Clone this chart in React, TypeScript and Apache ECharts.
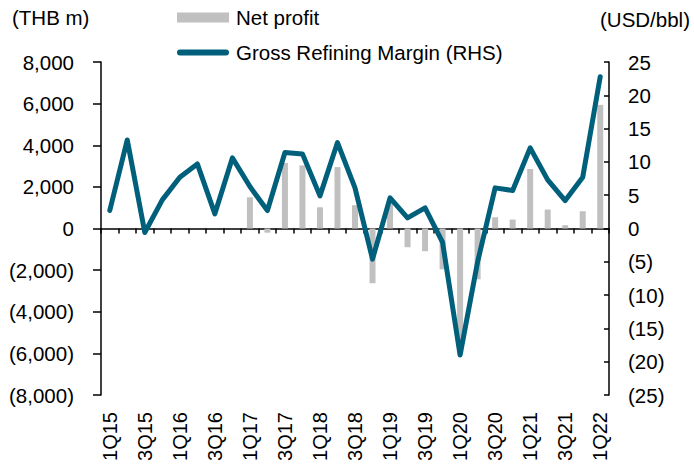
import React, { useEffect, useRef } from "react";
import * as echarts from "echarts";

const categories = [
  "1Q15", "2Q15", "3Q15", "4Q15", "1Q16", "2Q16", "3Q16", "4Q16",
  "1Q17", "2Q17", "3Q17", "4Q17", "1Q18", "2Q18", "3Q18", "4Q18",
  "1Q19", "2Q19", "3Q19", "4Q19", "1Q20", "2Q20", "3Q20", "4Q20",
  "1Q21", "2Q21", "3Q21", "4Q21", "1Q22",
];

const netProfit = [
  0, 0, 0, 0, 0, 0, 0, 0,
  1500, -200, 3150, 3030, 1020, 2950, 1120, -2630,
  1300, -900, -1090, -1960, -6000, -2440, 540, 430,
  2860, 910, 160, 830, 5940,
];

const grm = [
  2.7, 13.3, -0.6, 4.3, 7.7, 9.7, 2.2, 10.6,
  6.3, 2.7, 11.4, 11.2, 4.9, 12.9, 6.1, -4.6,
  4.6, 1.6, 3.1, -2.1, -19.0, -5.0, 6.1, 5.7,
  12.1, 7.3, 4.2, 7.7, 22.8,
];

const FONT = "'Liberation Sans', Arial, sans-serif";
const FS = 20.5;
const LINE_COLOR = "#00607b";

const fmtNum = (v: number) => {
  const s = Math.abs(v).toLocaleString("en-US");
  return v < 0 ? `(${s})` : s;
};

export default function App() {
  const ref = useRef<HTMLDivElement>(null);
  useEffect(() => {
    document.body.style.margin = "0";
    if (!ref.current) return;
    const chart = echarts.init(ref.current, null, { renderer: "svg" });
    chart.setOption({
      animation: false,
      textStyle: { fontFamily: FONT, color: "#000" },
      grid: { left: 101, right: 85, top: 62, bottom: 75, containLabel: false },
      legend: {
        orient: "vertical",
        left: 177,
        top: 7,
        padding: 0,
        itemWidth: 52,
        itemHeight: 10,
        itemGap: 14,
        textStyle: { fontSize: FS, fontFamily: FONT, color: "#000", padding: [0, 0, 0, 2] },
        data: [
          { name: "Net profit", icon: "rect" },
          {
            name: "Gross Refining Margin (RHS)",
            icon: "path://M3,0 L49,0 A3,3 0 0 1 49,6 L3,6 A3,3 0 0 1 3,0 Z",
          },
        ],
      },
      graphic: [
        { type: "text", left: 12, top: 7, style: { text: "(THB m)", fontSize: FS, fontFamily: FONT, fill: "#000" } },
        { type: "text", right: 4, top: 9, style: { text: "(USD/bbl)", fontSize: FS, fontFamily: FONT, fill: "#000" } },
      ],
      xAxis: [
        {
          type: "category",
          data: categories,
          position: "bottom",
          axisLine: { onZero: true, lineStyle: { color: "#000", width: 1.5 } },
          axisTick: { show: true, interval: 0, length: 5, lineStyle: { color: "#000", width: 1.5 } },
          axisLabel: { show: false },
        },
        {
          type: "category",
          data: categories,
          position: "bottom",
          axisLine: { show: false, onZero: false },
          axisTick: { show: false },
          axisLabel: {
            interval: 1,
            rotate: 90,
            margin: 17,
            fontSize: 20,
            fontFamily: FONT,
            color: "#000",
          },
        },
      ],
      yAxis: [
        {
          type: "value",
          min: -8000,
          max: 8000,
          interval: 2000,
          position: "left",
          splitLine: { show: false },
          axisLine: { show: true, lineStyle: { color: "#000", width: 1.5 } },
          axisTick: { show: true, length: 8, lineStyle: { color: "#000", width: 1.5 } },
          axisLabel: { margin: 27, fontSize: FS, fontFamily: FONT, color: "#000", formatter: fmtNum },
        },
        {
          type: "value",
          min: -25,
          max: 25,
          interval: 5,
          position: "right",
          splitLine: { show: false },
          axisLine: { show: true, lineStyle: { color: "#000", width: 1.5 } },
          axisTick: { show: true, inside: true, length: 5, lineStyle: { color: "#000", width: 1.5 } },
          axisLabel: { margin: 19, fontSize: FS, fontFamily: FONT, color: "#000", formatter: fmtNum },
        },
      ],
      series: [
        {
          name: "Net profit",
          type: "bar",
          xAxisIndex: 0,
          yAxisIndex: 0,
          data: netProfit,
          barWidth: 6,
          itemStyle: { color: "#c0c0c0" },
          z: 1,
        },
        {
          name: "Gross Refining Margin (RHS)",
          type: "line",
          xAxisIndex: 0,
          yAxisIndex: 1,
          data: grm,
          symbol: "none",
          lineStyle: { color: LINE_COLOR, width: 5, cap: "round", join: "round" },
          itemStyle: { color: LINE_COLOR },
          z: 3,
        },
      ],
    });
    return () => chart.dispose();
  }, []);
  return <div ref={ref} style={{ width: 694, height: 470 }} />;
}
